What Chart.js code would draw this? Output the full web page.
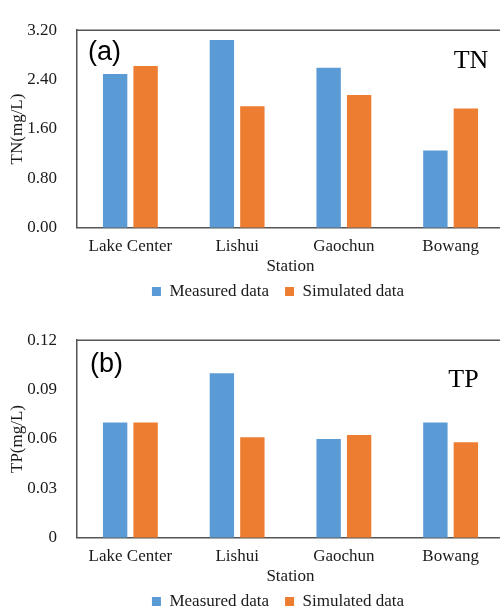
<!DOCTYPE html>
<html><head><meta charset="utf-8">
<script src="https://cdn.jsdelivr.net/npm/chart.js@4"></script>
<style>
html,body{margin:0;padding:0;background:#fff;overflow:hidden;width:500px;height:608px;}
.box{position:absolute;left:0;width:504px;height:310px;}
</style></head><body>
<div class="box" style="top:0"><canvas id="c1" width="504" height="310"></canvas></div>
<div class="box" style="top:310px"><canvas id="c2" width="504" height="310"></canvas></div>
<script>
const stations = ['Lake Center', 'Lishui', 'Gaochun', 'Bowang'];
const seriesNames = ['Measured data', 'Simulated data'];
const tnMeasured = [2.49, 3.04, 2.59, 1.25];
const tnSimulated = [2.62, 1.97, 2.15, 1.93];
const tpMeasured = [0.070, 0.100, 0.060, 0.070];
const tpSimulated = [0.070, 0.061, 0.0625, 0.058];
const tnTickLabels = ['0.00', '0.80', '1.60', '2.40', '3.20'];
const tpTickLabels = ['0', '0.03', '0.06', '0.09', '0.12'];

const BLUE = '#5B9BD5', ORANGE = '#ED7D31', AXIS = '#555';
const SERIF = '"Liberation Serif", "Times New Roman", serif';

const panelText = {
  id: 'panelText',
  afterLayout(chart, args, o) {
    if (chart.legend) chart.legend.left = o.legendLeft;
  },
  afterDraw(chart, args, o) {
    const {ctx, chartArea: a} = chart;
    ctx.save();
    ctx.strokeStyle = AXIS; ctx.lineWidth = 1.5;
    ctx.beginPath(); ctx.moveTo(a.left, a.top); ctx.lineTo(a.right, a.top); ctx.stroke();
    ctx.fillStyle = '#000'; ctx.textBaseline = 'middle';
    ctx.font = '27px "Liberation Sans", Arial, sans-serif'; ctx.textAlign = 'left';
    ctx.fillText(o.tag, a.left + o.tagDx, a.top + o.tagDy);
    ctx.font = '26px ' + SERIF; ctx.textAlign = 'center';
    ctx.fillText(o.name, a.left + o.nameDx, a.top + o.nameDy);
    ctx.restore();
  }
};

function makeChart(id, measured, simulated, tickLabels, yMax, step, yTitle, pt) {
  return new Chart(document.getElementById(id), {
    type: 'bar',
    data: {
      labels: stations,
      datasets: [
        {label: seriesNames[0], data: measured, backgroundColor: BLUE, borderWidth: 0},
        {label: seriesNames[1], data: simulated, backgroundColor: ORANGE, borderWidth: 0}
      ]
    },
    options: {
      responsive: false, animation: false,
      layout: {padding: {left: 0, top: 19.5, right: 0, bottom: 0}},
      datasets: {bar: {categoryPercentage: 0.571, barPercentage: 0.8}},
      scales: {
        x: {
          grid: {display: false, drawTicks: false},
          border: {display: true, color: AXIS, width: 1.5},
          ticks: {padding: 9, color: '#1a1a1a', font: {family: SERIF, size: 17}},
          title: {display: true, text: 'Station', color: '#1a1a1a', padding: {top: 0, bottom: -10.2}, font: {family: SERIF, size: 17}},
          afterFit(s) { s.height = 39.2; }
        },
        y: {
          min: 0, max: yMax,
          grid: {display: false, drawTicks: false},
          border: {display: true, color: AXIS, width: 1.5},
          ticks: {stepSize: step, padding: 20, color: '#1a1a1a', font: {family: SERIF, size: 17},
            callback: (v, i) => tickLabels[i]},
          title: {display: true, text: yTitle, color: '#1a1a1a', padding: {top: 7, bottom: 0}, font: {family: SERIF, size: 17}},
          afterFit(s) { s.width = 77; }
        }
      },
      plugins: {
        legend: {
          position: 'bottom',
          labels: {boxWidth: 9, boxHeight: 9, padding: 16, color: '#1a1a1a', font: {family: SERIF, size: 17}}
        },
        tooltip: {enabled: false},
        panelText: pt
      }
    },
    plugins: [panelText]
  });
}

makeChart('c1', tnMeasured, tnSimulated, tnTickLabels, 3.2, 0.8, 'TN(mg/L)',
  {tag: '(a)', tagDx: 11, tagDy: 22, name: 'TN', nameDx: 394, nameDy: 31, legendLeft: 52});
makeChart('c2', tpMeasured, tpSimulated, tpTickLabels, 0.12, 0.03, 'TP(mg/L)',
  {tag: '(b)', tagDx: 13, tagDy: 24, name: 'TP', nameDx: 386.5, nameDy: 39.7, legendLeft: 52});
</script>
</body></html>
